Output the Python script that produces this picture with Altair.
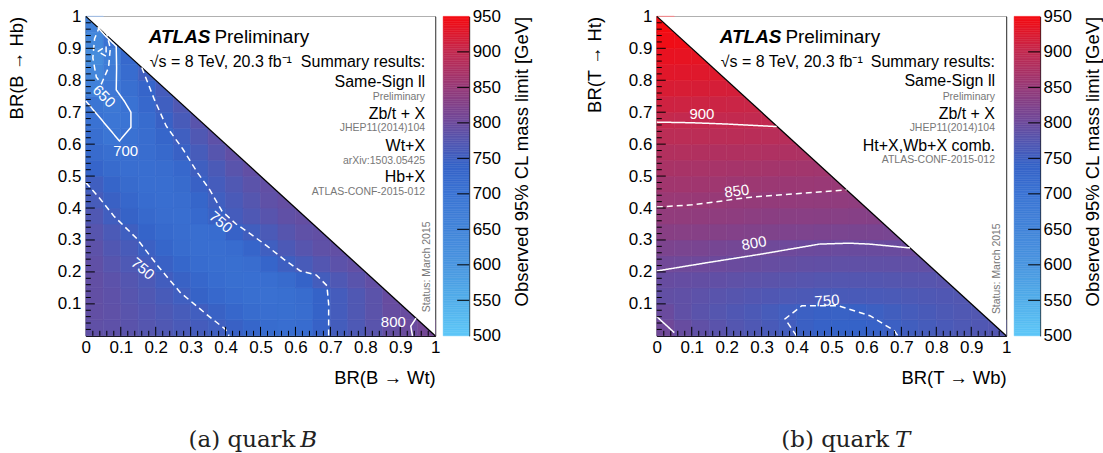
import altair as alt
import numpy as np
import pandas as pd

STEP = 0.05
FONT = "Liberation Sans"

# ---------------- cell values (rows from y=0 upward, columns from x=0) ----------------
B_ROWS = [
    [788, 785, 781, 776, 770, 764, 758, 752, 745, 732, 720, 715, 718, 742, 757, 768, 780, 792, 798, 808],
    [790, 786, 780, 774, 767, 760, 753, 744, 730, 719, 713, 712, 716, 740, 758, 770, 782, 794, 796],
    [790, 785, 778, 770, 762, 752, 741, 728, 718, 712, 710, 712, 720, 740, 758, 770, 782, 795],
    [790, 783, 775, 766, 755, 744, 730, 718, 712, 711, 713, 722, 740, 757, 769, 780, 790],
    [788, 778, 768, 756, 745, 731, 718, 713, 712, 716, 735, 750, 762, 774, 783, 790],
    [784, 772, 762, 748, 733, 720, 714, 713, 718, 735, 752, 766, 778, 786, 790],
    [778, 765, 751, 737, 724, 716, 714, 718, 742, 754, 765, 777, 786, 790],
    [770, 753, 741, 727, 716, 714, 725, 745, 758, 769, 779, 788, 792],
    [760, 746, 730, 718, 713, 716, 732, 752, 764, 776, 786, 792],
    [752, 736, 722, 714, 713, 722, 745, 758, 770, 782, 790],
    [735, 722, 714, 713, 716, 728, 751, 765, 780, 790],
    [722, 712, 711, 716, 726, 745, 760, 777, 790],
    [712, 698, 706, 716, 732, 752, 770, 785],
    [705, 693, 700, 720, 745, 762, 780],
    [697, 688, 705, 728, 752, 770],
    [662, 690, 712, 735, 758],
    [645, 680, 718, 752],
    [630, 672, 725],
    [640, 702],
    [660],
]

T_ROWS = [
    [805, 795, 788, 781, 775, 769, 763, 756, 747, 742, 740, 740, 742, 748, 754, 759, 764, 768, 771, 774],
    [798, 788, 781, 776, 771, 766, 760, 753, 748, 745, 744, 745, 749, 754, 759, 763, 767, 770, 773],
    [790, 787, 784, 780, 777, 774, 771, 768, 766, 764, 763, 763, 764, 765, 767, 769, 771, 773],
    [795, 793, 791, 789, 786, 784, 782, 780, 778, 776, 775, 775, 775, 776, 777, 778, 780],
    [806, 804, 802, 800, 798, 796, 794, 792, 790, 789, 788, 787, 787, 788, 789, 790],
    [819, 817, 815, 812, 810, 807, 804, 802, 800, 799, 798, 797, 797, 797, 800],
    [833, 832, 831, 829, 827, 825, 823, 821, 820, 818, 817, 816, 815, 814],
    [845, 844, 843, 842, 840, 838, 836, 835, 834, 833, 832, 831, 830],
    [854, 853, 852, 851, 849, 848, 847, 846, 845, 844, 843, 842],
    [863, 862, 861, 860, 858, 857, 856, 855, 854, 853, 852],
    [872, 871, 870, 869, 868, 867, 866, 865, 864, 863],
    [882, 882, 881, 880, 880, 879, 878, 877, 876],
    [892, 892, 892, 891, 891, 890, 889, 888],
    [902, 901, 901, 901, 901, 900, 900],
    [912, 911, 910, 909, 908, 907],
    [922, 921, 920, 919, 918],
    [930, 929, 928, 927],
    [937, 936, 935],
    [945, 944],
    [950],
]

# ---------------- contour lines ----------------
B_CONTOURS = [
    ("b650", "dashed", [0.04, 0.025, 0.02, 0.03, 0.045, 0.065, 0.07, 0.06, 0.04],
                       [0.97, 0.93, 0.87, 0.81, 0.79, 0.84, 0.90, 0.945, 0.97]),
    ("b650i", "dashed", [0.034, 0.058, 0.058, 0.034], [0.89, 0.906, 0.875, 0.89]),
    ("b700", "solid", [0.034, 0.055, 0.087, 0.088, 0.087, 0.11, 0.129, 0.129, 0.096, 0.05, 0.0],
                      [0.966, 0.94, 0.906, 0.84, 0.77, 0.735, 0.70, 0.653, 0.61, 0.67, 0.735]),
    ("b750a", "dashed", [0.16, 0.196, 0.23, 0.278, 0.32, 0.353, 0.39, 0.43, 0.47, 0.52, 0.566, 0.614, 0.66, 0.69, 0.695, 0.695],
                        [0.84, 0.74, 0.657, 0.584, 0.51, 0.46, 0.39, 0.35, 0.32, 0.28, 0.24, 0.203, 0.19, 0.157, 0.10, 0.0]),
    ("b750b", "dashed", [0.0, 0.04, 0.08, 0.147, 0.205, 0.27, 0.35, 0.40, 0.41],
                        [0.48, 0.43, 0.375, 0.303, 0.22, 0.136, 0.063, 0.02, 0.0]),
    ("b800", "solid", [0.945, 0.93, 0.935], [0.055, 0.03, 0.0]),
]

T_CONTOURS = [
    ("t900", "solid", [0.0, 0.1, 0.2, 0.343], [0.669, 0.667, 0.663, 0.655]),
    ("t850", "dashed", [0.0, 0.1, 0.27, 0.4, 0.543], [0.403, 0.41, 0.434, 0.445, 0.457]),
    ("t800", "solid", [0.0, 0.15, 0.30, 0.465, 0.55, 0.61, 0.725], [0.203, 0.23, 0.256, 0.287, 0.29, 0.287, 0.275]),
    ("t750", "dashed", [0.40, 0.367, 0.415, 0.52, 0.61, 0.68, 0.69], [0.0, 0.053, 0.094, 0.094, 0.063, 0.016, 0.0]),
    ("t800b", "solid", [0.0, 0.05], [0.06, 0.01]),
]

B_CLABELS = {"text": ["650", "700", "750", "750", "800"],
             "x": [0.052, 0.114, 0.386, 0.163, 0.88],
             "y": [0.75, 0.58, 0.356, 0.21, 0.044],
             "angle": [45, 0, 40, 40, 0]}
T_CLABELS = {"text": ["900", "850", "800", "750"],
             "x": [0.129, 0.229, 0.278, 0.487],
             "y": [0.694, 0.453, 0.29, 0.11],
             "angle": [0, 353, 350, 356]}

# ---------------- annotation texts ----------------
B_RIGHT_BIG = {"text": ["Summary results:", "Same-Sign ll", "Zb/t + X", "Wt+X", "Hb+X"],
               "y": [0.856, 0.794, 0.694, 0.594, 0.497]}
B_RIGHT_SMALL = {"text": ["Preliminary", "JHEP11(2014)104", "arXiv:1503.05425", "ATLAS-CONF-2015-012"],
                 "y": [0.747, 0.65, 0.547, 0.45]}
T_RIGHT_BIG = {"text": ["Summary results:", "Same-Sign ll", "Zb/t + X", "Ht+X,Wb+X comb."],
               "y": [0.856, 0.797, 0.694, 0.594]}
T_RIGHT_SMALL = {"text": ["Preliminary", "JHEP11(2014)104", "ATLAS-CONF-2015-012"],
                 "y": [0.747, 0.65, 0.55]}

XTICK_VALUES = [0, 0.1, 0.2, 0.3, 0.4, 0.5, 0.6, 0.7, 0.8, 0.9, 1]
YTICK_VALUES = [0.1, 0.2, 0.3, 0.4, 0.5, 0.6, 0.7, 0.8, 0.9, 1]
MAJOR_TICKS = [0.1, 0.2, 0.3, 0.4, 0.5, 0.6, 0.7, 0.8, 0.9]
MINOR_TICKS = [round(k * 0.02, 2) for k in range(1, 50) if k % 5 != 0]
CB_TICKS = [500, 550, 600, 650, 700, 750, 800, 850, 900, 950]

C_DOMAIN = [500, 550, 600, 650, 700, 740, 775, 800, 850, 900, 950]
C_RANGE = ["#5ec8f8", "#52aeea", "#4a96e0", "#4385da", "#3b74d4", "#3563c8",
           "#5456b0", "#6c4a9c", "#963a78", "#c22a50", "#f50a10"]

XS = alt.Scale(domain=[0, 1], nice=False, zero=False)
YS = alt.Scale(domain=[0, 1], nice=False, zero=False)
CSCALE = alt.Scale(domain=C_DOMAIN, range=C_RANGE, interpolate="rgb", clamp=True)

W, H = 350, 320
TITLE_SIZE = 18.5


def cell_frame(rows):
    rec = []
    for j, row in enumerate(rows):
        for i, v in enumerate(row):
            rec.append({"x": i * STEP, "x2": (i + 1) * STEP, "y": j * STEP, "y2": (j + 1) * STEP, "v": v})
    return pd.DataFrame(rec)


def contour_frame(contours):
    rec = []
    for cid, style, xs, ys in contours:
        for k, (x, y) in enumerate(zip(xs, ys)):
            rec.append({"cid": cid, "style": style, "ord": k, "x": x, "y": y})
    return pd.DataFrame(rec)


def make_axes(xtitle, ytitle, ytitle_pad):
    ax = alt.Axis(values=XTICK_VALUES, format="~g", title=xtitle, titleAnchor="end", ticks=False,
                  grid=False, labelPadding=4, titlePadding=13, labelFlush=False, labelOverlap=False,
                  titleFontSize=TITLE_SIZE)
    ay = alt.Axis(values=YTICK_VALUES, format="~g", title=ytitle, titleAnchor="end", ticks=False,
                  grid=False, labelPadding=5, titlePadding=ytitle_pad, labelFlush=False, labelOverlap=False,
                  titleFontSize=TITLE_SIZE)
    return ax, ay


def panel(rows, contours, clabels, right_big, right_small, right_x, status_xy,
          xtitle, ytitle, ytitle_pad, cap_main, cap_it, cap_x_main, cap_x_it):
    AX, AY = make_axes(xtitle, ytitle, ytitle_pad)

    def px(field="x"):
        return alt.X(f"{field}:Q", scale=XS, axis=AX)

    def py(field="y"):
        return alt.Y(f"{field}:Q", scale=YS, axis=AY)

    def text_layer(df, **mk):
        enc = dict(x=px(), y=py(), text="text:N")
        if "angle" in df.columns:
            enc["angle"] = alt.Angle("angle:Q", scale=None)
        return alt.Chart(df).mark_text(font=FONT, baseline="middle", **mk).encode(**enc)

    heat = alt.Chart(cell_frame(rows)).mark_rect(strokeWidth=0.6).encode(
        x=px(), x2="x2:Q", y=py(), y2="y2:Q",
        color=alt.Color("v:Q", scale=CSCALE, legend=None),
        stroke=alt.Stroke("v:Q", scale=CSCALE, legend=None),
    )
    tri_df = pd.DataFrame({"x": [0.0, 1.0], "y": [1.0, 0.0], "top": [1.0, 1.0]})
    tri = alt.Chart(tri_df).mark_area(color="white").encode(x=px(), y=py(), y2="top:Q")
    diag = alt.Chart(tri_df).mark_line(color="black", strokeWidth=1.3).encode(x=px(), y=py())

    cont = alt.Chart(contour_frame(contours)).mark_line(color="white", strokeWidth=1.5).encode(
        x=px(), y=py(), detail="cid:N", order="ord:Q",
        strokeDash=alt.StrokeDash("style:N", scale=alt.Scale(domain=["solid", "dashed"], range=[[1, 0], [6, 4]]),
                                  legend=None),
    )
    clab = text_layer(pd.DataFrame(clabels), color="white", fontSize=15, align="center")

    atlas = text_layer(pd.DataFrame({"text": ["ATLAS"], "x": [0.18], "y": [0.934]}),
                       fontSize=19, fontWeight="bold", fontStyle="italic", align="left", color="black")
    prelim = text_layer(pd.DataFrame({"text": ["Preliminary"], "x": [0.368], "y": [0.934]}),
                        fontSize=19, align="left", color="black")
    energy = text_layer(pd.DataFrame({"text": ["√s = 8 TeV, 20.3 fb⁻¹"], "x": [0.183], "y": [0.856]}),
                        fontSize=16, align="left", color="black")
    rb = pd.DataFrame(right_big)
    rb["x"] = right_x
    rs = pd.DataFrame(right_small)
    rs["x"] = right_x
    big = text_layer(rb, fontSize=16, align="right", color="black")
    small = text_layer(rs, fontSize=10.5, align="right", color="#777777")
    status = text_layer(pd.DataFrame({"text": ["Status: March 2015"], "x": [status_xy[0]], "y": [status_xy[1]],
                                      "angle": [270]}), fontSize=10.5, align="center", color="#777777")

    cap1 = alt.Chart(pd.DataFrame({"text": [cap_main], "x": [cap_x_main], "y": [-0.325]})).mark_text(
        font="DejaVu Serif", fontSize=23, align="right", baseline="middle", color="#222222").encode(
        x=px(), y=py(), text="text:N")
    cap2 = alt.Chart(pd.DataFrame({"text": [cap_it], "x": [cap_x_it], "y": [-0.325]})).mark_text(
        font="DejaVu Serif", fontSize=23, fontStyle="italic", align="left", baseline="middle",
        color="#222222").encode(x=px(), y=py(), text="text:N")

    ymaj = alt.Chart(pd.DataFrame({"y": MAJOR_TICKS})).mark_rule(color="black").encode(
        y=py(), x=alt.value(0), x2=alt.value(9))
    ymin = alt.Chart(pd.DataFrame({"y": MINOR_TICKS})).mark_rule(color="black").encode(
        y=py(), x=alt.value(0), x2=alt.value(5))
    xmaj = alt.Chart(pd.DataFrame({"x": MAJOR_TICKS})).mark_rule(color="black").encode(
        x=px(), y=alt.value(H), y2=alt.value(H - 9))
    xmin = alt.Chart(pd.DataFrame({"x": MINOR_TICKS})).mark_rule(color="black").encode(
        x=px(), y=alt.value(H), y2=alt.value(H - 5))

    return alt.layer(heat, tri, diag, cont, clab, atlas, prelim, energy, big, small, status,
                     ymaj, ymin, xmaj, xmin, cap1, cap2).properties(width=W, height=H)


def colorbar():
    lo = np.arange(500, 950, 2.5)
    df = pd.DataFrame({"lo": lo, "hi": lo + 2.5, "mid": lo + 1.25})
    ys = alt.Scale(domain=[500, 950], nice=False, zero=False)
    cax = alt.Axis(orient="right", values=CB_TICKS, title="Observed 95% CL mass limit [GeV]",
                   titleAngle=270, titleAnchor="end", titleBaseline="top", ticks=False, grid=False,
                   labelPadding=3, titlePadding=12, labelFlush=False, labelOverlap=False,
                   titleFontSize=TITLE_SIZE)
    bar = alt.Chart(df).mark_rect(strokeWidth=0.5).encode(
        y=alt.Y("lo:Q", scale=ys, axis=cax),
        y2="hi:Q",
        color=alt.Color("mid:Q", scale=CSCALE, legend=None),
        stroke=alt.Stroke("mid:Q", scale=CSCALE, legend=None),
    )
    ticks = alt.Chart(pd.DataFrame({"lo": CB_TICKS[1:-1]})).mark_rule(color="black").encode(
        y=alt.Y("lo:Q", scale=ys, axis=cax), x=alt.value(14), x2=alt.value(26))
    return alt.layer(bar, ticks).properties(width=26, height=H,
                                            view=alt.ViewBackground(stroke="transparent"))


pA = panel(B_ROWS, B_CONTOURS, B_CLABELS, B_RIGHT_BIG, B_RIGHT_SMALL, 0.971, (0.977, 0.216),
           "BR(B → Wt)", "BR(B → Hb)", 31, "(a) quark", "B", 0.6, 0.614)
pB = panel(T_ROWS, T_CONTOURS, T_CLABELS, T_RIGHT_BIG, T_RIGHT_SMALL, 0.968, (0.974, 0.21),
           "BR(T → Wb)", "BR(T → Ht)", 24, "(b) quark", "T", 0.665, 0.682)

chart = alt.hconcat(
    alt.hconcat(pA, colorbar(), spacing=1),
    alt.hconcat(pB, colorbar(), spacing=1),
    spacing=52,
).properties(
    padding={"left": 6, "top": 6, "right": 0, "bottom": 0},
    background="white",
).configure_view(stroke="black", strokeWidth=1).configure_axis(
    labelFont=FONT, titleFont=FONT, labelFontSize=17, titleFontSize=17,
    labelColor="black", titleColor="black", titleFontWeight="normal",
    domainColor="black", domainWidth=1,
)

chart.save("out.html", embed_options={"renderer": "svg", "actions": False})
